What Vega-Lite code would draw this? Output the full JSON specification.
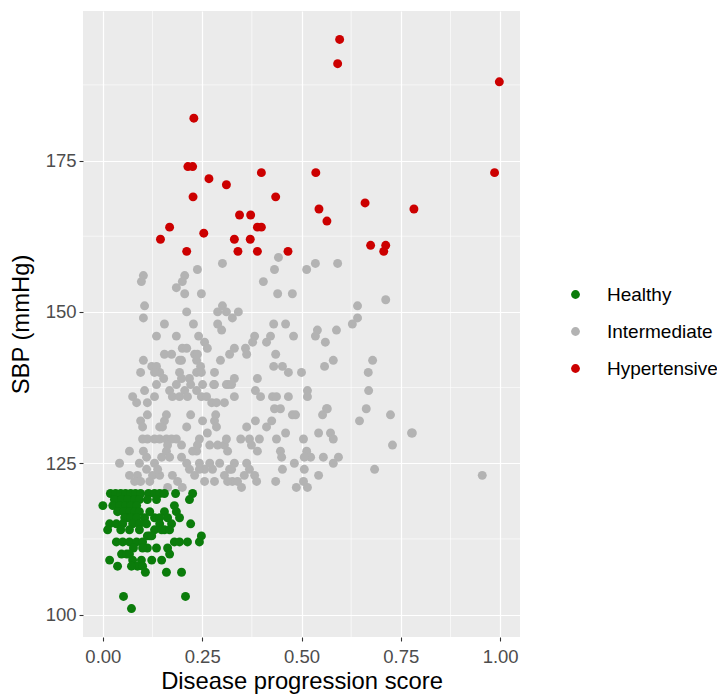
{
"$schema": "https://vega.github.io/schema/vega-lite/v6.json",
"width": 437, "height": 626,
"autosize": {"type": "none"},
"padding": {"left": 83, "top": 11, "right": 197, "bottom": 58},
"background": "white",
"config": {
  "view": {"fill": "#EBEBEB", "stroke": null},
  "font": "Liberation Sans",
  "axis": {"domain": false, "gridColor": "white", "gridWidth": 1.2, "tickColor": "#333333", "tickSize": 4, "tickWidth": 1.1, "labelColor": "#4D4D4D", "labelFontSize": 18.5, "titleFontSize": 23.8, "titleFontWeight": "normal", "titleColor": "black"}
},
"layer": [
  {"data": {"values": [{"score": 0.125}, {"score": 0.375}, {"score": 0.625}, {"score": 0.875}]},
   "mark": {"type": "rule", "color": "white", "strokeWidth": 0.6},
   "encoding": {"x": {"field": "score", "type": "quantitative", "scale": {"domain": [-0.05, 1.05], "nice": false, "zero": false}}}},
  {"data": {"values": [{"sbp": 112.5}, {"sbp": 137.5}, {"sbp": 162.5}, {"sbp": 187.5}]},
   "mark": {"type": "rule", "color": "white", "strokeWidth": 0.6},
   "encoding": {"y": {"field": "sbp", "type": "quantitative", "scale": {"domain": [96.3, 199.7], "nice": false, "zero": false}}}},
  {"data": {"values": [
{"score":0.596,"sbp":195,"status":"Hypertensive"},{"score":0.591,"sbp":191,"status":"Hypertensive"},{"score":0.998,"sbp":188,"status":"Hypertensive"},{"score":0.229,"sbp":182,"status":"Hypertensive"},{"score":0.214,"sbp":174,"status":"Hypertensive"},{"score":0.226,"sbp":174,"status":"Hypertensive"},{"score":0.399,"sbp":173,"status":"Hypertensive"},{"score":0.536,"sbp":173,"status":"Hypertensive"},{"score":0.267,"sbp":172,"status":"Hypertensive"},{"score":0.311,"sbp":171,"status":"Hypertensive"},{"score":0.227,"sbp":169,"status":"Hypertensive"},{"score":0.435,"sbp":169,"status":"Hypertensive"},{"score":0.544,"sbp":167,"status":"Hypertensive"},{"score":0.564,"sbp":165,"status":"Hypertensive"},{"score":0.344,"sbp":166,"status":"Hypertensive"},{"score":0.372,"sbp":166,"status":"Hypertensive"},{"score":0.389,"sbp":164,"status":"Hypertensive"},{"score":0.399,"sbp":164,"status":"Hypertensive"},{"score":0.168,"sbp":164,"status":"Hypertensive"},{"score":0.145,"sbp":162,"status":"Hypertensive"},{"score":0.254,"sbp":163,"status":"Hypertensive"},{"score":0.331,"sbp":162,"status":"Hypertensive"},{"score":0.371,"sbp":162,"status":"Hypertensive"},{"score":0.211,"sbp":160,"status":"Hypertensive"},{"score":0.340,"sbp":160,"status":"Hypertensive"},{"score":0.389,"sbp":160,"status":"Hypertensive"},{"score":0.466,"sbp":160,"status":"Hypertensive"},{"score":0.986,"sbp":173,"status":"Hypertensive"},{"score":0.660,"sbp":168,"status":"Hypertensive"},{"score":0.783,"sbp":167,"status":"Hypertensive"},{"score":0.674,"sbp":161,"status":"Hypertensive"},{"score":0.712,"sbp":161,"status":"Hypertensive"},{"score":0.707,"sbp":160,"status":"Hypertensive"},
{"score":0.442,"sbp":159,"status":"Intermediate"},{"score":0.238,"sbp":157,"status":"Intermediate"},{"score":0.301,"sbp":158,"status":"Intermediate"},{"score":0.432,"sbp":157,"status":"Intermediate"},{"score":0.513,"sbp":157,"status":"Intermediate"},{"score":0.535,"sbp":158,"status":"Intermediate"},{"score":0.591,"sbp":158,"status":"Intermediate"},{"score":0.097,"sbp":155,"status":"Intermediate"},{"score":0.102,"sbp":156,"status":"Intermediate"},{"score":0.206,"sbp":156,"status":"Intermediate"},
{"score":0.200,"sbp":155,"status":"Intermediate"},{"score":0.185,"sbp":154,"status":"Intermediate"},{"score":0.206,"sbp":153,"status":"Intermediate"},{"score":0.248,"sbp":153,"status":"Intermediate"},{"score":0.404,"sbp":155,"status":"Intermediate"},{"score":0.440,"sbp":153,"status":"Intermediate"},{"score":0.477,"sbp":153,"status":"Intermediate"},{"score":0.712,"sbp":152,"status":"Intermediate"},{"score":0.105,"sbp":151,"status":"Intermediate"},{"score":0.102,"sbp":149,"status":"Intermediate"},
{"score":0.211,"sbp":150,"status":"Intermediate"},{"score":0.289,"sbp":150,"status":"Intermediate"},{"score":0.301,"sbp":151,"status":"Intermediate"},{"score":0.311,"sbp":150,"status":"Intermediate"},{"score":0.341,"sbp":150,"status":"Intermediate"},{"score":0.289,"sbp":148,"status":"Intermediate"},{"score":0.299,"sbp":147,"status":"Intermediate"},{"score":0.326,"sbp":149,"status":"Intermediate"},{"score":0.155,"sbp":148,"status":"Intermediate"},{"score":0.228,"sbp":148,"status":"Intermediate"},
{"score":0.430,"sbp":148,"status":"Intermediate"},{"score":0.460,"sbp":148,"status":"Intermediate"},{"score":0.641,"sbp":151,"status":"Intermediate"},{"score":0.641,"sbp":149,"status":"Intermediate"},{"score":0.628,"sbp":148,"status":"Intermediate"},{"score":0.540,"sbp":147,"status":"Intermediate"},{"score":0.535,"sbp":146,"status":"Intermediate"},{"score":0.588,"sbp":147,"status":"Intermediate"},{"score":0.135,"sbp":146,"status":"Intermediate"},{"score":0.185,"sbp":146,"status":"Intermediate"},
{"score":0.241,"sbp":146,"status":"Intermediate"},{"score":0.256,"sbp":145,"status":"Intermediate"},{"score":0.263,"sbp":144,"status":"Intermediate"},{"score":0.382,"sbp":146,"status":"Intermediate"},{"score":0.377,"sbp":145,"status":"Intermediate"},{"score":0.412,"sbp":145,"status":"Intermediate"},{"score":0.422,"sbp":146,"status":"Intermediate"},{"score":0.480,"sbp":146,"status":"Intermediate"},{"score":0.560,"sbp":145,"status":"Intermediate"},{"score":0.359,"sbp":144,"status":"Intermediate"},
{"score":0.362,"sbp":143,"status":"Intermediate"},{"score":0.331,"sbp":144,"status":"Intermediate"},{"score":0.319,"sbp":143,"status":"Intermediate"},{"score":0.155,"sbp":143,"status":"Intermediate"},{"score":0.173,"sbp":143,"status":"Intermediate"},{"score":0.200,"sbp":144,"status":"Intermediate"},{"score":0.211,"sbp":144,"status":"Intermediate"},{"score":0.198,"sbp":142,"status":"Intermediate"},{"score":0.193,"sbp":142,"status":"Intermediate"},{"score":0.231,"sbp":143,"status":"Intermediate"},
{"score":0.238,"sbp":143,"status":"Intermediate"},{"score":0.236,"sbp":142,"status":"Intermediate"},{"score":0.246,"sbp":141,"status":"Intermediate"},{"score":0.236,"sbp":140,"status":"Intermediate"},{"score":0.248,"sbp":140,"status":"Intermediate"},{"score":0.296,"sbp":142,"status":"Intermediate"},{"score":0.102,"sbp":142,"status":"Intermediate"},{"score":0.435,"sbp":143,"status":"Intermediate"},{"score":0.430,"sbp":141,"status":"Intermediate"},{"score":0.452,"sbp":141,"status":"Intermediate"},
{"score":0.467,"sbp":140,"status":"Intermediate"},{"score":0.500,"sbp":140,"status":"Intermediate"},{"score":0.580,"sbp":142,"status":"Intermediate"},{"score":0.558,"sbp":141,"status":"Intermediate"},{"score":0.679,"sbp":142,"status":"Intermediate"},{"score":0.668,"sbp":140,"status":"Intermediate"},{"score":0.123,"sbp":141,"status":"Intermediate"},{"score":0.135,"sbp":141,"status":"Intermediate"},{"score":0.143,"sbp":140,"status":"Intermediate"},{"score":0.153,"sbp":139,"status":"Intermediate"},
{"score":0.095,"sbp":140,"status":"Intermediate"},{"score":0.130,"sbp":140,"status":"Intermediate"},{"score":0.193,"sbp":140,"status":"Intermediate"},{"score":0.198,"sbp":139,"status":"Intermediate"},{"score":0.218,"sbp":139,"status":"Intermediate"},{"score":0.281,"sbp":140,"status":"Intermediate"},{"score":0.281,"sbp":138,"status":"Intermediate"},{"score":0.389,"sbp":139,"status":"Intermediate"},{"score":0.316,"sbp":138,"status":"Intermediate"},{"score":0.331,"sbp":139,"status":"Intermediate"},
{"score":0.135,"sbp":138,"status":"Intermediate"},{"score":0.221,"sbp":138,"status":"Intermediate"},{"score":0.251,"sbp":138,"status":"Intermediate"},{"score":0.279,"sbp":138,"status":"Intermediate"},{"score":0.311,"sbp":138,"status":"Intermediate"},{"score":0.324,"sbp":138,"status":"Intermediate"},{"score":0.075,"sbp":136,"status":"Intermediate"},{"score":0.085,"sbp":135,"status":"Intermediate"},{"score":0.105,"sbp":137,"status":"Intermediate"},{"score":0.130,"sbp":136,"status":"Intermediate"},
{"score":0.112,"sbp":135,"status":"Intermediate"},{"score":0.168,"sbp":137,"status":"Intermediate"},{"score":0.175,"sbp":136,"status":"Intermediate"},{"score":0.185,"sbp":138,"status":"Intermediate"},{"score":0.193,"sbp":136,"status":"Intermediate"},{"score":0.206,"sbp":137,"status":"Intermediate"},{"score":0.213,"sbp":136,"status":"Intermediate"},{"score":0.236,"sbp":137,"status":"Intermediate"},{"score":0.248,"sbp":136,"status":"Intermediate"},{"score":0.261,"sbp":136,"status":"Intermediate"},
{"score":0.274,"sbp":135,"status":"Intermediate"},{"score":0.286,"sbp":135,"status":"Intermediate"},{"score":0.306,"sbp":135,"status":"Intermediate"},{"score":0.331,"sbp":136,"status":"Intermediate"},{"score":0.384,"sbp":137,"status":"Intermediate"},{"score":0.397,"sbp":136,"status":"Intermediate"},{"score":0.427,"sbp":136,"status":"Intermediate"},{"score":0.437,"sbp":136,"status":"Intermediate"},{"score":0.467,"sbp":136,"status":"Intermediate"},{"score":0.515,"sbp":137,"status":"Intermediate"},
{"score":0.515,"sbp":136,"status":"Intermediate"},{"score":0.669,"sbp":137,"status":"Intermediate"},{"score":0.563,"sbp":134,"status":"Intermediate"},{"score":0.112,"sbp":133,"status":"Intermediate"},{"score":0.095,"sbp":132,"status":"Intermediate"},{"score":0.100,"sbp":131,"status":"Intermediate"},{"score":0.160,"sbp":133,"status":"Intermediate"},{"score":0.155,"sbp":132,"status":"Intermediate"},{"score":0.150,"sbp":131,"status":"Intermediate"},{"score":0.143,"sbp":131,"status":"Intermediate"},
{"score":0.221,"sbp":133,"status":"Intermediate"},{"score":0.251,"sbp":132,"status":"Intermediate"},{"score":0.284,"sbp":133,"status":"Intermediate"},{"score":0.281,"sbp":132,"status":"Intermediate"},{"score":0.286,"sbp":131,"status":"Intermediate"},{"score":0.432,"sbp":134,"status":"Intermediate"},{"score":0.447,"sbp":134,"status":"Intermediate"},{"score":0.477,"sbp":133,"status":"Intermediate"},{"score":0.485,"sbp":133,"status":"Intermediate"},{"score":0.553,"sbp":133,"status":"Intermediate"},
{"score":0.565,"sbp":134,"status":"Intermediate"},{"score":0.663,"sbp":134,"status":"Intermediate"},{"score":0.646,"sbp":132,"status":"Intermediate"},{"score":0.724,"sbp":133,"status":"Intermediate"},{"score":0.384,"sbp":132,"status":"Intermediate"},{"score":0.362,"sbp":131,"status":"Intermediate"},{"score":0.412,"sbp":131,"status":"Intermediate"},{"score":0.425,"sbp":132,"status":"Intermediate"},{"score":0.211,"sbp":131,"status":"Intermediate"},{"score":0.263,"sbp":130,"status":"Intermediate"},
{"score":0.100,"sbp":129,"status":"Intermediate"},{"score":0.112,"sbp":129,"status":"Intermediate"},{"score":0.130,"sbp":129,"status":"Intermediate"},{"score":0.143,"sbp":129,"status":"Intermediate"},{"score":0.160,"sbp":129,"status":"Intermediate"},{"score":0.173,"sbp":129,"status":"Intermediate"},{"score":0.185,"sbp":129,"status":"Intermediate"},{"score":0.163,"sbp":128,"status":"Intermediate"},{"score":0.198,"sbp":128,"status":"Intermediate"},{"score":0.243,"sbp":129,"status":"Intermediate"},
{"score":0.238,"sbp":128,"status":"Intermediate"},{"score":0.236,"sbp":127,"status":"Intermediate"},{"score":0.269,"sbp":128,"status":"Intermediate"},{"score":0.289,"sbp":128,"status":"Intermediate"},{"score":0.306,"sbp":128,"status":"Intermediate"},{"score":0.347,"sbp":129,"status":"Intermediate"},{"score":0.369,"sbp":129,"status":"Intermediate"},{"score":0.374,"sbp":128,"status":"Intermediate"},{"score":0.394,"sbp":129,"status":"Intermediate"},{"score":0.389,"sbp":127,"status":"Intermediate"},
{"score":0.437,"sbp":129,"status":"Intermediate"},{"score":0.460,"sbp":130,"status":"Intermediate"},{"score":0.505,"sbp":129,"status":"Intermediate"},{"score":0.543,"sbp":130,"status":"Intermediate"},{"score":0.573,"sbp":130,"status":"Intermediate"},{"score":0.580,"sbp":129,"status":"Intermediate"},{"score":0.777,"sbp":130,"status":"Intermediate"},{"score":0.779,"sbp":130,"status":"Intermediate"},{"score":0.729,"sbp":128,"status":"Intermediate"},{"score":0.311,"sbp":129,"status":"Intermediate"},
{"score":0.314,"sbp":127,"status":"Intermediate"},{"score":0.447,"sbp":127,"status":"Intermediate"},{"score":0.450,"sbp":126,"status":"Intermediate"},{"score":0.513,"sbp":127,"status":"Intermediate"},{"score":0.523,"sbp":126,"status":"Intermediate"},{"score":0.507,"sbp":126,"status":"Intermediate"},{"score":0.555,"sbp":126,"status":"Intermediate"},{"score":0.593,"sbp":126,"status":"Intermediate"},{"score":0.580,"sbp":125,"status":"Intermediate"},{"score":0.482,"sbp":125,"status":"Intermediate"},
{"score":0.067,"sbp":127,"status":"Intermediate"},{"score":0.102,"sbp":127,"status":"Intermediate"},{"score":0.110,"sbp":126,"status":"Intermediate"},{"score":0.092,"sbp":125,"status":"Intermediate"},{"score":0.130,"sbp":125,"status":"Intermediate"},{"score":0.148,"sbp":126,"status":"Intermediate"},{"score":0.160,"sbp":127,"status":"Intermediate"},{"score":0.168,"sbp":126,"status":"Intermediate"},{"score":0.198,"sbp":126,"status":"Intermediate"},{"score":0.211,"sbp":125,"status":"Intermediate"},
{"score":0.226,"sbp":127,"status":"Intermediate"},{"score":0.243,"sbp":125,"status":"Intermediate"},{"score":0.256,"sbp":124,"status":"Intermediate"},{"score":0.269,"sbp":125,"status":"Intermediate"},{"score":0.042,"sbp":125,"status":"Intermediate"},{"score":0.110,"sbp":124,"status":"Intermediate"},{"score":0.087,"sbp":123,"status":"Intermediate"},{"score":0.125,"sbp":123,"status":"Intermediate"},{"score":0.080,"sbp":122,"status":"Intermediate"},{"score":0.143,"sbp":123,"status":"Intermediate"},
{"score":0.218,"sbp":124,"status":"Intermediate"},{"score":0.231,"sbp":123,"status":"Intermediate"},{"score":0.256,"sbp":122,"status":"Intermediate"},{"score":0.276,"sbp":124,"status":"Intermediate"},{"score":0.294,"sbp":125,"status":"Intermediate"},{"score":0.306,"sbp":123,"status":"Intermediate"},{"score":0.319,"sbp":124,"status":"Intermediate"},{"score":0.684,"sbp":124,"status":"Intermediate"},{"score":0.507,"sbp":124,"status":"Intermediate"},{"score":0.452,"sbp":124,"status":"Intermediate"},
{"score":0.543,"sbp":123,"status":"Intermediate"},{"score":0.505,"sbp":122,"status":"Intermediate"},{"score":0.435,"sbp":122,"status":"Intermediate"},{"score":0.487,"sbp":121,"status":"Intermediate"},{"score":0.515,"sbp":121,"status":"Intermediate"},{"score":0.331,"sbp":125,"status":"Intermediate"},{"score":0.324,"sbp":124,"status":"Intermediate"},{"score":0.326,"sbp":122,"status":"Intermediate"},{"score":0.314,"sbp":122,"status":"Intermediate"},{"score":0.339,"sbp":122,"status":"Intermediate"},
{"score":0.362,"sbp":125,"status":"Intermediate"},{"score":0.369,"sbp":124,"status":"Intermediate"},{"score":0.382,"sbp":123,"status":"Intermediate"},{"score":0.387,"sbp":122,"status":"Intermediate"},{"score":0.356,"sbp":123,"status":"Intermediate"},{"score":0.349,"sbp":121,"status":"Intermediate"},{"score":0.955,"sbp":123,"status":"Intermediate"},{"score":0.281,"sbp":122,"status":"Intermediate"},{"score":0.163,"sbp":121,"status":"Intermediate"},{"score":0.188,"sbp":122,"status":"Intermediate"},
{"score":0.067,"sbp":123,"status":"Intermediate"},{"score":0.095,"sbp":122,"status":"Intermediate"},{"score":0.118,"sbp":122,"status":"Intermediate"},{"score":0.138,"sbp":124,"status":"Intermediate"},{"score":0.175,"sbp":123,"status":"Intermediate"},{"score":0.243,"sbp":124,"status":"Intermediate"},{"score":0.200,"sbp":121,"status":"Intermediate"},
{"score":0.019,"sbp":120,"status":"Healthy"},{"score":0.032,"sbp":120,"status":"Healthy"},{"score":0.045,"sbp":120,"status":"Healthy"},{"score":0.057,"sbp":120,"status":"Healthy"},{"score":0.070,"sbp":120,"status":"Healthy"},{"score":0.082,"sbp":120,"status":"Healthy"},{"score":0.095,"sbp":120,"status":"Healthy"},{"score":0.115,"sbp":120,"status":"Healthy"},{"score":0.130,"sbp":120,"status":"Healthy"},{"score":0.143,"sbp":120,"status":"Healthy"},
{"score":0.155,"sbp":120,"status":"Healthy"},{"score":0.183,"sbp":120,"status":"Healthy"},{"score":0.226,"sbp":120,"status":"Healthy"},{"score":0.218,"sbp":119,"status":"Healthy"},{"score":0.029,"sbp":119,"status":"Healthy"},{"score":0.047,"sbp":119,"status":"Healthy"},{"score":0.062,"sbp":119,"status":"Healthy"},{"score":0.080,"sbp":119,"status":"Healthy"},{"score":0.092,"sbp":119,"status":"Healthy"},{"score":0.112,"sbp":119,"status":"Healthy"},
{"score":0.135,"sbp":119,"status":"Healthy"},{"score":0.000,"sbp":118,"status":"Healthy"},{"score":0.025,"sbp":118,"status":"Healthy"},{"score":0.042,"sbp":118,"status":"Healthy"},{"score":0.057,"sbp":118,"status":"Healthy"},{"score":0.070,"sbp":118,"status":"Healthy"},{"score":0.085,"sbp":118,"status":"Healthy"},{"score":0.180,"sbp":118,"status":"Healthy"},{"score":0.037,"sbp":117,"status":"Healthy"},{"score":0.052,"sbp":117,"status":"Healthy"},
{"score":0.067,"sbp":117,"status":"Healthy"},{"score":0.080,"sbp":117,"status":"Healthy"},{"score":0.092,"sbp":117,"status":"Healthy"},{"score":0.155,"sbp":117,"status":"Healthy"},{"score":0.118,"sbp":117,"status":"Healthy"},{"score":0.062,"sbp":116,"status":"Healthy"},{"score":0.185,"sbp":117,"status":"Healthy"},{"score":0.055,"sbp":116,"status":"Healthy"},{"score":0.070,"sbp":116,"status":"Healthy"},{"score":0.085,"sbp":116,"status":"Healthy"},
{"score":0.105,"sbp":116,"status":"Healthy"},{"score":0.130,"sbp":116,"status":"Healthy"},{"score":0.143,"sbp":116,"status":"Healthy"},{"score":0.163,"sbp":116,"status":"Healthy"},{"score":0.173,"sbp":115,"status":"Healthy"},{"score":0.193,"sbp":116,"status":"Healthy"},{"score":0.017,"sbp":115,"status":"Healthy"},{"score":0.034,"sbp":115,"status":"Healthy"},{"score":0.050,"sbp":115,"status":"Healthy"},{"score":0.075,"sbp":115,"status":"Healthy"},
{"score":0.092,"sbp":115,"status":"Healthy"},{"score":0.110,"sbp":115,"status":"Healthy"},{"score":0.143,"sbp":115,"status":"Healthy"},{"score":0.221,"sbp":115,"status":"Healthy"},{"score":0.130,"sbp":114,"status":"Healthy"},{"score":0.155,"sbp":114,"status":"Healthy"},{"score":0.012,"sbp":114,"status":"Healthy"},{"score":0.045,"sbp":114,"status":"Healthy"},{"score":0.067,"sbp":114,"status":"Healthy"},{"score":0.092,"sbp":114,"status":"Healthy"},
{"score":0.118,"sbp":113,"status":"Healthy"},{"score":0.148,"sbp":114,"status":"Healthy"},{"score":0.168,"sbp":114,"status":"Healthy"},{"score":0.112,"sbp":113,"status":"Healthy"},{"score":0.123,"sbp":113,"status":"Healthy"},{"score":0.248,"sbp":113,"status":"Healthy"},{"score":0.243,"sbp":112,"status":"Healthy"},{"score":0.034,"sbp":112,"status":"Healthy"},{"score":0.050,"sbp":112,"status":"Healthy"},{"score":0.067,"sbp":112,"status":"Healthy"},
{"score":0.085,"sbp":112,"status":"Healthy"},{"score":0.100,"sbp":112,"status":"Healthy"},{"score":0.112,"sbp":111,"status":"Healthy"},{"score":0.135,"sbp":111,"status":"Healthy"},{"score":0.180,"sbp":112,"status":"Healthy"},{"score":0.193,"sbp":112,"status":"Healthy"},{"score":0.213,"sbp":112,"status":"Healthy"},{"score":0.163,"sbp":111,"status":"Healthy"},{"score":0.168,"sbp":110,"status":"Healthy"},{"score":0.047,"sbp":110,"status":"Healthy"},
{"score":0.060,"sbp":110,"status":"Healthy"},{"score":0.077,"sbp":111,"status":"Healthy"},{"score":0.067,"sbp":110,"status":"Healthy"},{"score":0.100,"sbp":111,"status":"Healthy"},{"score":0.017,"sbp":109,"status":"Healthy"},{"score":0.037,"sbp":108,"status":"Healthy"},{"score":0.075,"sbp":109,"status":"Healthy"},{"score":0.097,"sbp":109,"status":"Healthy"},{"score":0.123,"sbp":109,"status":"Healthy"},{"score":0.148,"sbp":109,"status":"Healthy"},
{"score":0.087,"sbp":108,"status":"Healthy"},{"score":0.100,"sbp":108,"status":"Healthy"},{"score":0.107,"sbp":107,"status":"Healthy"},{"score":0.072,"sbp":108,"status":"Healthy"},{"score":0.160,"sbp":107,"status":"Healthy"},{"score":0.198,"sbp":107,"status":"Healthy"},{"score":0.052,"sbp":103,"status":"Healthy"},{"score":0.208,"sbp":103,"status":"Healthy"},{"score":0.072,"sbp":101,"status":"Healthy"}
   ]},
   "mark": {"type": "circle", "size": 80, "opacity": 1},
   "encoding": {
     "x": {"field": "score", "type": "quantitative", "scale": {"domain": [-0.05, 1.05], "nice": false, "zero": false},
           "axis": {"values": [0, 0.25, 0.5, 0.75, 1], "format": ".2f", "title": "Disease progression score", "labelPadding": 6, "titlePadding": 4}},
     "y": {"field": "sbp", "type": "quantitative", "scale": {"domain": [96.3, 199.7], "nice": false, "zero": false},
           "axis": {"values": [100, 125, 150, 175], "title": "SBP (mmHg)", "labelPadding": 3, "titlePadding": 12}},
     "color": {"field": "status", "type": "nominal",
       "scale": {"domain": ["Healthy", "Intermediate", "Hypertensive"], "range": ["#0B7C0B", "#B3B3B3", "#CC0000"]},
       "legend": {"title": null, "orient": "none", "legendX": 483, "legendY": 274, "symbolSize": 78, "symbolType": "circle", "symbolOpacity": 1, "labelFontSize": 19, "labelColor": "black", "labelOffset": 22, "rowPadding": 17, "padding": 0}}
   }}
]
}
